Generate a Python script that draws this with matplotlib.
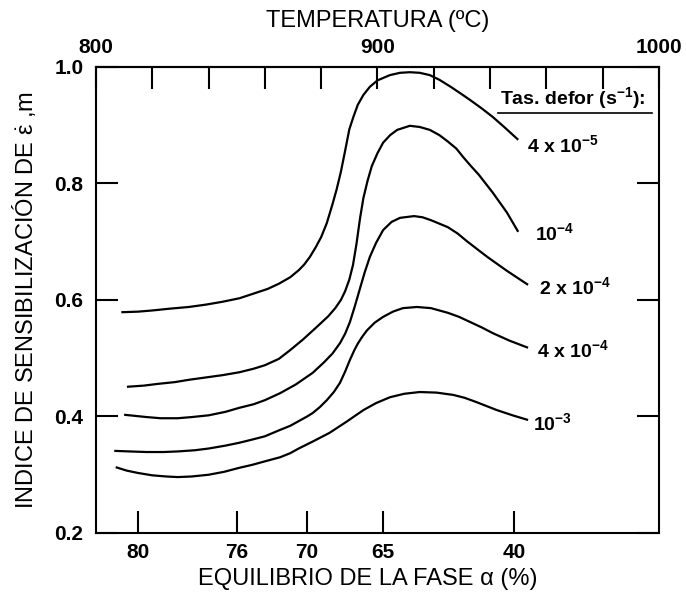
import matplotlib
matplotlib.use('Agg')
import matplotlib.pyplot as plt

plt.rcParams['font.family'] = ['Liberation Sans', 'DejaVu Sans']
plt.rcParams['mathtext.fontset'] = 'custom'
plt.rcParams['mathtext.rm'] = 'Liberation Sans'
plt.rcParams['mathtext.it'] = 'Liberation Sans'
plt.rcParams['mathtext.bf'] = 'Liberation Sans:bold'

# strain-rate sensitivity m vs temperature, one curve per strain rate
temp_4e5 = [809, 815, 820, 826, 833, 839, 845, 851, 856, 861, 865, 869, 872, 874, 876, 878,
            880, 882, 884, 885.5, 887, 888.5, 890, 891.5, 893, 895, 897.3, 900, 904.4, 908,
            911.5, 915, 918.6, 922, 926, 930, 933, 937, 941, 945, 950]
m_4e5 = [0.579, 0.580, 0.582, 0.585, 0.588, 0.592, 0.597, 0.603, 0.611, 0.619, 0.628, 0.639,
         0.651, 0.661, 0.674, 0.690, 0.708, 0.732, 0.764, 0.790, 0.820, 0.856, 0.893, 0.915,
         0.935, 0.952, 0.966, 0.977, 0.986, 0.990, 0.991, 0.990, 0.986, 0.978, 0.966, 0.953,
         0.943, 0.929, 0.914, 0.897, 0.875]

temp_1e4 = [811, 817, 822, 828, 833, 839, 845, 851, 856, 860, 865, 869, 873.5, 878.5, 882.5,
            885, 887, 888.5, 890, 891.3, 892.5, 893.8, 895, 896.5, 898, 900, 902, 904.5, 907,
            911.5, 915, 918.6, 922, 925, 928, 930.5, 933, 936, 941, 946, 950]
m_1e4 = [0.451, 0.453, 0.456, 0.459, 0.463, 0.467, 0.471, 0.476, 0.482, 0.488, 0.499, 0.514,
         0.532, 0.554, 0.572, 0.586, 0.600, 0.615, 0.635, 0.660, 0.695, 0.740, 0.775, 0.805,
         0.830, 0.852, 0.870, 0.883, 0.892, 0.899, 0.897, 0.892, 0.883, 0.872, 0.860, 0.845,
         0.831, 0.815, 0.784, 0.750, 0.717]

temp_2e4 = [810, 814, 818, 823, 829, 834, 840, 846, 851, 856, 860, 865.4, 871, 877, 881, 884,
            886.7, 888.5, 890.2, 892, 893.8, 895.5, 897.3, 899.5, 902, 905, 908, 913, 916, 919,
            922, 925, 928.5, 932, 935.5, 939, 946, 953.5]
m_2e4 = [0.403, 0.401, 0.399, 0.397, 0.397, 0.399, 0.402, 0.408, 0.415, 0.421, 0.428, 0.440,
         0.455, 0.475, 0.493, 0.508, 0.526, 0.542, 0.562, 0.590, 0.620, 0.648, 0.674, 0.698,
         0.720, 0.734, 0.741, 0.744, 0.742, 0.737, 0.731, 0.725, 0.714, 0.700, 0.687, 0.674,
         0.650, 0.626]

temp_4e4 = [806.5, 812, 818, 824, 829, 835, 840, 846, 851, 856, 860, 865.4, 869, 872, 875, 877,
            879.5, 882, 884.5, 886.7, 888.5, 890.2, 891.7, 893, 894.6, 896.3, 899, 902, 905.5,
            909, 914, 919, 922, 925, 929, 933, 937, 941, 947, 953.5]
m_4e4 = [0.341, 0.340, 0.339, 0.339, 0.340, 0.342, 0.345, 0.350, 0.355, 0.361, 0.366, 0.377,
         0.384, 0.392, 0.400, 0.406, 0.416, 0.428, 0.442, 0.458, 0.477, 0.497, 0.513, 0.525,
         0.537, 0.548, 0.561, 0.571, 0.580, 0.586, 0.588, 0.586, 0.582, 0.578, 0.571, 0.562,
         0.553, 0.543, 0.530, 0.518]

temp_1e3 = [807, 811, 815, 820, 825, 829, 834, 840, 845.5, 851, 855.5, 860, 865.4, 869, 872,
            877, 883, 889, 895, 899.5, 904.4, 909.5, 915, 921, 927, 931, 935, 938.7, 942.4,
            948, 953.5]
m_1e3 = [0.313, 0.307, 0.303, 0.299, 0.297, 0.296, 0.297, 0.300, 0.305, 0.312, 0.317, 0.323,
         0.330, 0.337, 0.345, 0.357, 0.372, 0.391, 0.411, 0.423, 0.433, 0.439, 0.442, 0.441,
         0.437, 0.432, 0.425, 0.418, 0.411, 0.402, 0.394]

rate_labels = ['4 x 10$^{\\mathbf{-5}}$', '10$^{\\mathbf{-4}}$', '2 x 10$^{\\mathbf{-4}}$',
               '4 x 10$^{\\mathbf{-4}}$', '10$^{\\mathbf{-3}}$']

# alpha-phase fraction marked at the matching temperatures
phase_temp = [815, 850, 875, 902, 948.5]
phase_pct = ['80', '76', '70', '65', '40']

temp_major = [800, 900, 1000]
temp_minor = [820, 840, 860, 880, 920, 940, 960, 980]
m_ticks = [0.2, 0.4, 0.6, 0.8, 1.0]

fig = plt.figure(figsize=(6.86, 5.98), dpi=100)
ax = fig.add_axes([0.1399, 0.1087, 0.8207, 0.7793])

curves = [(temp_4e5, m_4e5), (temp_1e4, m_1e4), (temp_2e4, m_2e4),
          (temp_4e4, m_4e4), (temp_1e3, m_1e3)]
for t, m in curves:
    ax.plot(t, m, color='black', lw=1.6, solid_capstyle='butt', solid_joinstyle='round')

# labels at the right end of each curve
label_pos = [(953.1, 0.866), (956.0, 0.715), (957.4, 0.622), (956.7, 0.514), (955.2, 0.389)]
for (x, y), lab in zip(label_pos, rate_labels):
    ax.text(x, y, lab, fontsize=14, fontweight='bold', ha='left', va='center')

ax.text(943.5, 0.947, 'Tas. defor (s$^{\\mathbf{-1}}$):', fontsize=14, fontweight='bold',
        ha='left', va='center')
ax.plot([942.8, 997.5], [0.921, 0.921], color='black', lw=1.2)

ax.set_xlim(800, 1000)
ax.set_ylim(0.2, 1.0)
ax.set_xticks(phase_temp, labels=phase_pct)
ax.set_yticks(m_ticks, labels=['%.1f' % v for v in m_ticks])
ax.tick_params(axis='both', direction='in', length=16, width=1.5, labelsize=15)
ax.tick_params(axis='y', right=True, pad=9)
ax.tick_params(axis='x', pad=7)
for lab in ax.get_xticklabels() + ax.get_yticklabels():
    lab.set_fontweight('bold')
for s in ax.spines.values():
    s.set_linewidth(1.5)

top = ax.secondary_xaxis('top')
top.set_xticks(temp_major, labels=[str(v) for v in temp_major])
top.set_xticks(temp_minor, minor=True)
top.tick_params(axis='x', which='both', direction='in', length=16, width=1.5,
                labelsize=15, pad=7)
for lab in top.get_xticklabels():
    lab.set_fontweight('bold')
top.spines['top'].set_linewidth(1.5)
top.set_xlabel('TEMPERATURA (ºC)', fontsize=17, labelpad=8)

ax.set_xlabel('EQUILIBRIO DE LA FASE α (%)', fontsize=17)
ax.xaxis.set_label_coords(0.483, -0.075)
ax.set_ylabel('INDICE DE SENSIBILIZACIÓN DE $\\dot{\\mathrm{\\varepsilon}}$ ,m', fontsize=17)
ax.yaxis.set_label_coords(-0.103, 0.5)

fig.savefig('out.png', dpi=100)
